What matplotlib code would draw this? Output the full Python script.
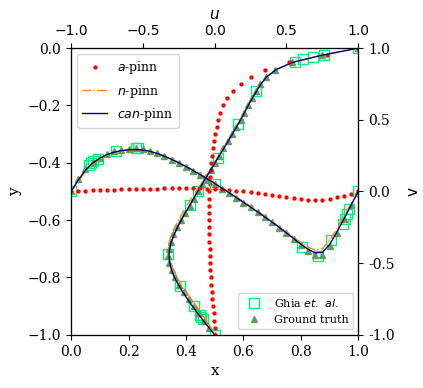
import matplotlib
matplotlib.use("Agg")
import matplotlib.pyplot as plt
from matplotlib.lines import Line2D

plt.rcParams["font.family"] = "serif"
plt.rcParams["font.serif"] = ["DejaVu Serif"]
plt.rcParams["mathtext.fontset"] = "dejavusans"

# u along the vertical centre line, y in [-1, 0]
y_pts = [-1.0, -0.975, -0.95, -0.925, -0.9, -0.875, -0.85, -0.825, -0.8, -0.775,
         -0.75, -0.725, -0.7, -0.675, -0.65, -0.625, -0.6, -0.575, -0.55, -0.525,
         -0.5, -0.475, -0.45, -0.425, -0.4, -0.375, -0.35, -0.325, -0.3, -0.275,
         -0.25, -0.225, -0.2, -0.175, -0.15, -0.125, -0.1, -0.075, -0.05, -0.025, 0.0]
u_true = [0.000, -0.037, -0.075, -0.110, -0.145, -0.180, -0.215, -0.247, -0.276, -0.300,
          -0.318, -0.327, -0.321, -0.307, -0.287, -0.262, -0.235, -0.205, -0.175, -0.145,
          -0.115, -0.086, -0.057, -0.029, 0.000, 0.030, 0.061, 0.091, 0.121, 0.151,
          0.180, 0.207, 0.234, 0.261, 0.290, 0.318, 0.355, 0.420, 0.535, 0.745, 1.000]
u_can = [0.000, -0.040, -0.080, -0.118, -0.155, -0.190, -0.223, -0.253, -0.280, -0.300,
         -0.313, -0.318, -0.314, -0.301, -0.282, -0.259, -0.233, -0.205, -0.176, -0.147,
         -0.118, -0.088, -0.058, -0.028, 0.002, 0.032, 0.063, 0.093, 0.123, 0.152,
         0.180, 0.207, 0.234, 0.262, 0.291, 0.322, 0.362, 0.428, 0.540, 0.745, 1.000]
u_n = [0.000, -0.025, -0.058, -0.092, -0.127, -0.163, -0.198, -0.232, -0.263, -0.290,
       -0.310, -0.322, -0.324, -0.316, -0.300, -0.278, -0.252, -0.224, -0.194, -0.163,
       -0.131, -0.099, -0.066, -0.034, -0.002, 0.029, 0.060, 0.091, 0.121, 0.150,
       0.178, 0.205, 0.232, 0.260, 0.289, 0.321, 0.361, 0.427, 0.540, 0.745, 1.000]
u_a = [0.004, 0.000, -0.004, -0.008, -0.012, -0.016, -0.020, -0.024, -0.027, -0.030,
       -0.032, -0.034, -0.036, -0.038, -0.040, -0.041, -0.042, -0.042, -0.042, -0.041,
       -0.039, -0.036, -0.032, -0.029, -0.024, -0.018, -0.012, -0.006, 0.004, 0.014,
       0.025, 0.038, 0.056, 0.084, 0.125, 0.180, 0.252, 0.350, 0.520, 0.780, 1.000]

# v along the horizontal centre line
x_pts = [0.0, 0.025, 0.05, 0.075, 0.1, 0.125, 0.15, 0.175, 0.2, 0.225,
         0.25, 0.275, 0.3, 0.325, 0.35, 0.375, 0.4, 0.425, 0.45, 0.475,
         0.5, 0.525, 0.55, 0.575, 0.6, 0.625, 0.65, 0.675, 0.7, 0.725,
         0.75, 0.775, 0.8, 0.825, 0.85, 0.875, 0.9, 0.925, 0.95, 0.975, 1.0]
v_true = [0.000, 0.085, 0.155, 0.205, 0.237, 0.262, 0.280, 0.292, 0.299, 0.302,
          0.296, 0.284, 0.267, 0.245, 0.222, 0.197, 0.170, 0.142, 0.113, 0.083,
          0.052, 0.020, -0.012, -0.045, -0.078, -0.111, -0.145, -0.180, -0.215, -0.252,
          -0.290, -0.330, -0.375, -0.415, -0.445, -0.445, -0.380, -0.290, -0.195, -0.095, 0.000]
v_can = [0.000, 0.080, 0.148, 0.198, 0.232, 0.257, 0.274, 0.285, 0.291, 0.292,
         0.289, 0.280, 0.265, 0.246, 0.224, 0.200, 0.174, 0.146, 0.117, 0.087,
         0.056, 0.024, -0.009, -0.042, -0.075, -0.109, -0.143, -0.178, -0.214, -0.251,
         -0.289, -0.328, -0.368, -0.403, -0.428, -0.425, -0.370, -0.285, -0.192, -0.095, 0.000]
v_n = [0.000, 0.072, 0.138, 0.189, 0.225, 0.251, 0.270, 0.282, 0.289, 0.291,
       0.288, 0.279, 0.265, 0.247, 0.226, 0.203, 0.178, 0.151, 0.122, 0.092,
       0.061, 0.029, -0.004, -0.037, -0.070, -0.104, -0.138, -0.173, -0.209, -0.246,
       -0.283, -0.320, -0.356, -0.388, -0.408, -0.400, -0.340, -0.262, -0.175, -0.088, 0.000]
v_a = [0.000, 0.003, 0.005, 0.007, 0.009, 0.011, 0.013, 0.014, 0.016, 0.017,
       0.018, 0.019, 0.020, 0.021, 0.022, 0.022, 0.022, 0.022, 0.021, 0.020,
       0.018, 0.014, 0.010, 0.006, 0.002, -0.004, -0.010, -0.017, -0.024, -0.032,
       -0.040, -0.046, -0.052, -0.057, -0.060, -0.058, -0.052, -0.042, -0.030, -0.016, 0.000]

# Ghia et al. (Re = 400)
ghia_y = [0.0, -0.0234, -0.0312, -0.0391, -0.0469, -0.1484, -0.2656, -0.3828, -0.5,
          -0.5469, -0.7187, -0.8281, -0.8984, -0.9297, -0.9375, -0.9453, -1.0]
ghia_u = [1.0, 0.75837, 0.68439, 0.61756, 0.55892, 0.29093, 0.16256, 0.02135, -0.11477,
          -0.17119, -0.32726, -0.24299, -0.14612, -0.10338, -0.09266, -0.08186, 0.0]
ghia_x = [1.0, 0.9688, 0.9609, 0.9531, 0.9453, 0.9063, 0.8594, 0.8047, 0.5,
          0.2344, 0.2266, 0.1563, 0.0938, 0.0781, 0.0703, 0.0625, 0.0]
ghia_v = [0.0, -0.12146, -0.15663, -0.19254, -0.22847, -0.338, -0.44993, -0.38598, 0.05186,
          0.30174, 0.30203, 0.28124, 0.22965, 0.20920, 0.19713, 0.18360, 0.0]

sq = dict(marker="s", ls="none", mfc="none", mec="#00f07a", mew=1.0, ms=7)
tri = dict(marker="^", ls="none", color="#5f9e5f", ms=5)
dot = dict(marker="o", ls="none", color="red", ms=2.1)
n_style = dict(color="darkorange", ls="-.", lw=1.0)
c_style = dict(color="navy", ls="-", lw=1.0)

fig = plt.figure(figsize=(4.23, 3.88), dpi=100)
ax = fig.add_subplot(111)
fig.subplots_adjust(left=0.168, right=0.847, bottom=0.137, top=0.876)
ax.set_xlim(0, 1)
ax.set_ylim(-1, 0)
ax.set_xlabel("x", fontsize=11)
ax.set_ylabel("y", fontsize=11)
ax.tick_params(labelsize=10)

axu = ax.twiny()
axu.set_xlim(-1, 1)
axu.set_xticks([-1.0, -0.5, 0.0, 0.5, 1.0])
axu.set_xticklabels(["\u22121.0", "\u22120.5", "0.0", "0.5", "1.0"],
                    fontfamily="DejaVu Sans", fontsize=10)
axu.set_xlabel("$u$", fontsize=11, fontfamily="DejaVu Sans")

axv = ax.twinx()
axv.set_ylim(-1, 1)
axv.set_yticks([-1.0, -0.5, 0.0, 0.5, 1.0])
axv.set_yticklabels(["-1.0", "-0.5", "0.0", "0.5", "1.0"], fontsize=10)
axv.set_ylabel("v", fontsize=11, fontfamily="DejaVu Sans", rotation=90, labelpad=8)

# u profiles
axu.plot(ghia_u, ghia_y, **sq)
axu.plot(u_true, y_pts, **tri)
axu.plot(u_a, y_pts, **dot)
axu.plot(u_n, y_pts, **n_style)
axu.plot(u_can, y_pts, **c_style)

# v profiles
axv.plot(ghia_x, ghia_v, **sq)
axv.plot(x_pts, v_true, **tri)
axv.plot(x_pts, v_a, **dot)
axv.plot(x_pts, v_n, **n_style)
axv.plot(x_pts, v_can, **c_style)

h1 = [Line2D([], [], **dot), Line2D([], [], **n_style), Line2D([], [], **c_style)]
leg1 = axv.legend(h1, ["$a$-pinn", "$n$-pinn", "$can$-pinn"], loc="upper left", fontsize=9)
axv.add_artist(leg1)
h2 = [Line2D([], [], **sq), Line2D([], [], **tri)]
axv.legend(h2, ["Ghia $et.$ $al.$", "Ground truth"], loc="lower right", fontsize=8)

fig.savefig("out.png", dpi=100)
